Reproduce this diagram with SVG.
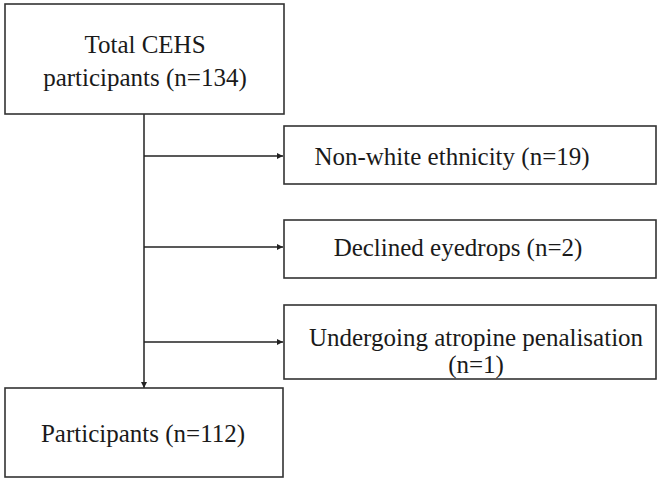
<svg xmlns="http://www.w3.org/2000/svg" width="659" height="483" viewBox="0 0 659 483">
<style>
.box{fill:#fff;stroke:#333;stroke-width:1.6}
.t{font-family:"Liberation Serif","Times New Roman",serif;font-size:25px;fill:#1a1a1a}
.c{stroke:#222;stroke-width:1.5;fill:none}
</style>
<defs>
<marker id="ah" viewBox="0 0 10 10" refX="10" refY="5" markerWidth="6" markerHeight="6" markerUnits="userSpaceOnUse" orient="auto">
<path d="M0,0 L10,5 L0,10 z" fill="#222"/>
</marker>
</defs>
<rect width="659" height="483" fill="#fff"/>
<g id="connectors">
<line class="c" x1="144" y1="114" x2="144" y2="388" marker-end="url(#ah)"/>
<line class="c" x1="144" y1="156" x2="283" y2="156" marker-end="url(#ah)"/>
<line class="c" x1="144" y1="247" x2="283" y2="247" marker-end="url(#ah)"/>
<line class="c" x1="144" y1="342" x2="283" y2="342" marker-end="url(#ah)"/>
</g>
<g id="total">
<rect class="box" x="5" y="4" width="279" height="110"/>
<text class="t" x="145" y="53" text-anchor="middle">Total CEHS</text>
<text class="t" x="145" y="86" text-anchor="middle">participants (n=134)</text>
</g>
<g id="nonwhite">
<rect class="box" x="284" y="126" width="372" height="58"/>
<text class="t" x="452" y="165" text-anchor="middle">Non-white ethnicity (n=19)</text>
</g>
<g id="declined">
<rect class="box" x="284" y="220" width="372" height="58"/>
<text class="t" x="458" y="256" text-anchor="middle">Declined eyedrops (n=2)</text>
</g>
<g id="atropine">
<rect class="box" x="284" y="305" width="372" height="74"/>
<text class="t" x="476" y="346" text-anchor="middle">Undergoing atropine penalisation</text>
<text class="t" x="476" y="373" text-anchor="middle">(n=1)</text>
</g>
<g id="participants">
<rect class="box" x="5" y="388" width="278" height="89"/>
<text class="t" x="143" y="442" text-anchor="middle">Participants (n=112)</text>
</g>
</svg>
